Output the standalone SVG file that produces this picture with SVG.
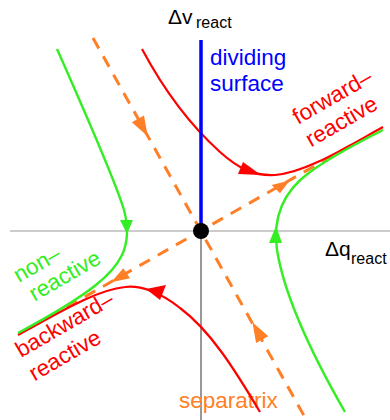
<svg xmlns="http://www.w3.org/2000/svg" width="390" height="420" viewBox="0 0 390 420">
<style>
text{font-family:"Liberation Sans",Arial,sans-serif;}
.lbl{font-size:22.5px;}
.ax{font-size:21px;fill:#000;}
.sub{font-size:16px;fill:#000;}
.red{stroke:#ff0000;stroke-width:2.2;fill:none;}
.grn{stroke:#33ee22;stroke-width:2.4;fill:none;}
.sep{stroke:#ff7f27;stroke-width:3;fill:none;stroke-dasharray:12 9;}
</style>
<rect width="390" height="420" fill="#fff"/>
<g id="axes">
<line x1="10" y1="231" x2="390" y2="231" stroke="#999" stroke-width="1.2"/>
<line x1="201" y1="231" x2="201" y2="420" stroke="#333" stroke-width="1"/>
<text class="ax" x="168" y="24">Δv</text><text class="sub" x="196" y="28">react</text>
<text class="ax" x="325" y="256">Δq</text><text class="sub" x="351" y="264">react</text>
</g>
<g id="separatrix">
<line class="sep" x1="93" y1="38" x2="312" y2="430"/>
<line class="sep" x1="30" y1="328" x2="355" y2="143"/>
<g fill="#ff7f27">
<polygon points="147.7,136.3 131.8,122.3 144,115.5"/>
<polygon points="252.4,322.3 256.1,343.1 268.3,336.3"/>
<polygon points="289.7,180.4 271.7,185 280,193.3"/>
<polygon points="111.1,282.3 123.3,268.3 130,278.3"/>
</g>
<text class="lbl" x="179" y="408" fill="#ff7f27">separatrix</text>
</g>
<g id="forward-reactive">
<path class="red" d="M142,49 C165,92 190,125 220,152 C240,170 255,176 275,175 C305,173 345,148 383,127"/>
<polygon points="243,162 238,174 261,175" fill="#ff0000"/>
<text class="lbl" fill="#ff0000" transform="translate(298,125) rotate(-30)"><tspan x="0" y="0">forward–</tspan><tspan x="0" y="26">reactive</tspan></text>
</g>
<g id="backward-reactive">
<path class="red" d="M260,412 C235,370 210,330 180,308 C160,292 140,285 125,287 C95,290 55,315 18,335"/>
<polygon points="146,289 166,285 160,300" fill="#ff0000"/>
<text class="lbl" fill="#ff0000" transform="translate(21,358) rotate(-30)"><tspan x="0" y="0">backward–</tspan><tspan x="0" y="27">reactive</tspan></text>
</g>
<g id="non-reactive">
<path class="grn" d="M57,49 C85,112 115,180 124,210 C128,225 129,240 122,255 C114,272 95,292 18,333"/>
<polygon points="120,220 133,220 127,234" fill="#33ee22"/>
<path class="grn" d="M345,412 C318,365 285,300 277,250 C272,215 285,190 310,172 C335,154 360,142 383,130"/>
<polygon points="269,243 282,243 276,226" fill="#33ee22"/>
<text class="lbl" fill="#33ee22" transform="translate(19,283) rotate(-30)"><tspan x="0" y="0">non–</tspan><tspan x="4" y="24">reactive</tspan></text>
</g>
<g id="dividing-surface">
<line x1="201" y1="40" x2="201" y2="231" stroke="#0000ff" stroke-width="3.5"/>
<text class="lbl" fill="#0000ff"><tspan x="210" y="65">dividing</tspan><tspan x="210" y="91">surface</tspan></text>
</g>
<circle id="saddle" cx="201" cy="231" r="8" fill="#000"/>
</svg>
